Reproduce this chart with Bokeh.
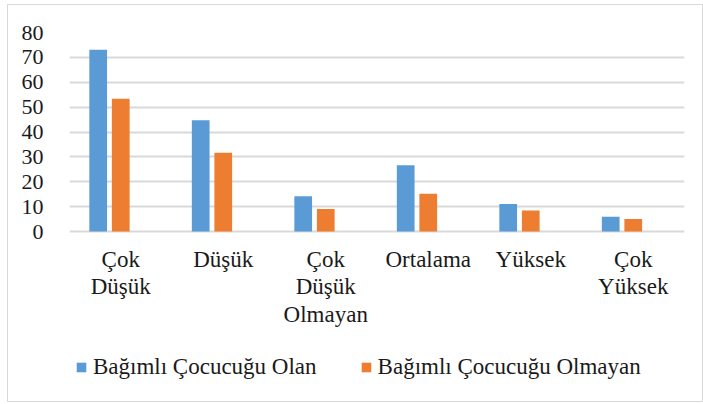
from bokeh.plotting import figure
from bokeh.models import FactorRange, Range1d, FixedTicker, Legend, LegendItem, ColumnDataSource
from bokeh.core.properties import value
from bokeh.transform import dodge
from bokeh.embed import file_html
from bokeh.resources import INLINE

categories = ["Çok\nDüşük", "Düşük", "Çok\nDüşük\nOlmayan", "Ortalama", "Yüksek", "Çok\nYüksek"]
series_names = ["Bağımlı Çocucuğu Olan", "Bağımlı Çocucuğu Olmayan"]
olan = [73.1, 44.7, 14.2, 26.6, 11.1, 5.9]
olmayan = [53.4, 31.7, 9.1, 15.2, 8.5, 5.0]
y_ticks = [0, 10, 20, 30, 40, 50, 60, 70, 80]

BLUE = "#5b9bd5"
ORANGE = "#ed7d31"
GRID = "#d9d9d9"
TEXT = "#1a1a1a"
FONT = "Liberation Serif"

src = ColumnDataSource(dict(cat=categories, olan=olan, olmayan=olmayan))

# frame extends below the value axis so that category labels and legend sit inside it
p = figure(x_range=FactorRange(*categories), y_range=Range1d(-66.3, 80),
           frame_width=615, frame_height=364, output_backend="svg", toolbar_location=None,
           min_border_left=61, min_border_right=18, min_border_top=27, min_border_bottom=5)
p.styles = {"border": "1px solid #d9d9d9", "position": "relative", "left": "7px", "top": "4px"}
p.outline_line_color = None
p.background_fill_color = "white"
p.border_fill_color = "white"

r1 = p.vbar(x=dodge("cat", -0.22, range=p.x_range), top="olan", bottom=0, width=0.173, source=src,
            fill_color=BLUE, line_color=None)
r2 = p.vbar(x=dodge("cat", 0.0, range=p.x_range), top="olmayan", bottom=0, width=0.173, source=src,
            fill_color=ORANGE, line_color=None)

# category labels under the zero line
p.text(x="cat", y=0, text="cat", source=src, text_font=value(FONT), text_font_size="23px",
       text_color=TEXT, text_align="center", text_baseline="top", y_offset=15,
       text_line_height=1.1)

p.xaxis.visible = False
p.xgrid.visible = False
p.ygrid.ticker = FixedTicker(ticks=y_ticks)
p.ygrid.grid_line_color = GRID
p.ygrid.grid_line_width = 2

p.yaxis.ticker = FixedTicker(ticks=y_ticks)
p.yaxis.axis_line_color = None
p.yaxis.major_tick_line_color = None
p.yaxis.minor_tick_line_color = None
p.yaxis.major_label_standoff = 20
p.yaxis.major_label_text_font = FONT
p.yaxis.major_label_text_font_size = "22px"
p.yaxis.major_label_text_color = TEXT

legend = Legend(items=[LegendItem(label=series_names[0], renderers=[r1]),
                       LegendItem(label=series_names[1], renderers=[r2])],
                orientation="horizontal", location=(6, 16),
                glyph_width=12, glyph_height=12, label_standoff=6, spacing=43,
                padding=0, margin=0, border_line_color=None, background_fill_alpha=0,
                label_text_font=FONT, label_text_font_size="23px", label_text_color=TEXT)
p.add_layout(legend, "center")

open("out.html", "w").write(file_html(p, INLINE))
